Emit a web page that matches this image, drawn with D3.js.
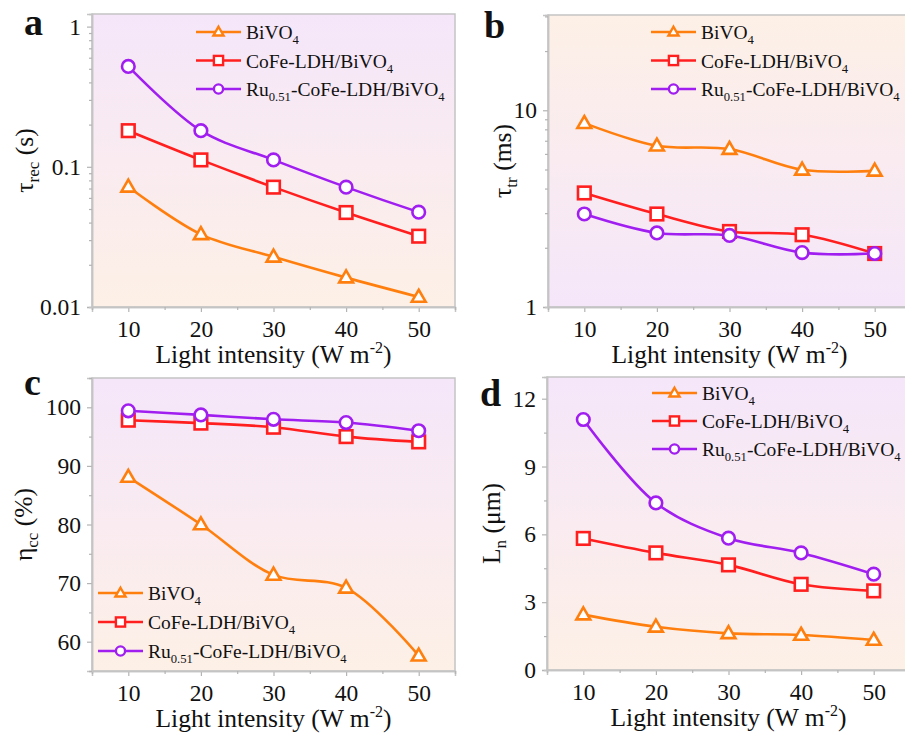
<!DOCTYPE html>
<meta charset="utf-8">
<script src="https://d3js.org/d3.v7.min.js"></script>
<style>
body{margin:0;background:#fff;}
svg text{font-family:"Liberation Serif","Times New Roman",Times,serif !important;fill:#111;}
</style>
<div id="fig"></div>
<script>
// light intensity (W m-2)
var intensity = [10, 20, 30, 40, 50];
var seriesNames = ["BiVO4", "CoFe-LDH/BiVO4", "Ru0.51-CoFe-LDH/BiVO4"];

// a: tau_rec (s)
var tauRecBi   = [0.072, 0.033, 0.0228, 0.0162, 0.0118];
var tauRecCoFe = [0.181, 0.112, 0.0716, 0.0472, 0.032];
var tauRecRu   = [0.52, 0.181, 0.112, 0.0716, 0.0475];
// b: tau_tr (ms)
var tauTrBi   = [8.6, 6.6, 6.35, 4.98, 4.92];
var tauTrCoFe = [3.8, 2.97, 2.42, 2.33, 1.87];
var tauTrRu   = [2.97, 2.38, 2.31, 1.89, 1.87];
// c: eta_cc (%)
var etaBi   = [88.1, 80.0, 71.4, 69.2, 57.6];
var etaCoFe = [97.8, 97.3, 96.6, 95.0, 94.1];
var etaRu   = [99.4, 98.7, 97.95, 97.4, 96.0];
// d: L_n (um)
var lnBi   = [2.45, 1.91, 1.62, 1.55, 1.33];
var lnCoFe = [5.82, 5.18, 4.65, 3.79, 3.5];
var lnRu   = [11.08, 7.39, 5.83, 5.18, 4.24];

var colors = ["#ff7f0e", "#ff1f1f", "#a01ff0"];
var shapes = ["triangle", "square", "circle"];
var lavender = "#f5e6fa", peach = "#fdf0e6";
var serif = '"Liberation Serif","Times New Roman",serif';

var svg = d3.select("#fig").append("svg")
  .attr("width", 905).attr("height", 733)
  .style("font-family", serif);
var defs = svg.append("defs");

function grad(id, top, bottom){
  var g = defs.append("linearGradient").attr("id", id)
    .attr("x1", 0).attr("y1", 0).attr("x2", 0).attr("y2", 1);
  g.append("stop").attr("offset", "0%").attr("stop-color", top);
  g.append("stop").attr("offset", "100%").attr("stop-color", bottom);
}
grad("gLP", lavender, peach);
grad("gPL", peach, lavender);

function marker(g, shape, cx, cy, s, color, sw){
  if (shape == "circle"){
    g.append("circle").attr("cx", cx).attr("cy", cy).attr("r", s)
      .attr("fill", "#fff").attr("stroke", color).attr("stroke-width", sw);
  } else if (shape == "square"){
    g.append("rect").attr("x", cx - s).attr("y", cy - s)
      .attr("width", 2*s).attr("height", 2*s)
      .attr("fill", "#fff").attr("stroke", color).attr("stroke-width", sw);
  } else {
    var h = s*1.9;
    g.append("path")
      .attr("d", "M" + cx + "," + (cy - h*0.6) + "L" + (cx + s*1.1) + "," + (cy + h*0.4) + "L" + (cx - s*1.1) + "," + (cy + h*0.4) + "Z")
      .attr("fill", "#fff").attr("stroke", color).attr("stroke-width", sw);
  }
}

function legendText(t, name, fs){
  var m = name.match(/^Ru0\.51(.*)$/);
  if (m){
    t.append("tspan").text("Ru");
    t.append("tspan").attr("font-size", fs*0.65).attr("dy", 5).text("0.51");
    t.append("tspan").attr("dy", -5).text(m[1].replace(/4$/, ""));
  } else {
    t.append("tspan").text(name.replace(/4$/, ""));
  }
  t.append("tspan").attr("font-size", fs*0.65).attr("dy", 5).text("4");
}

function panel(o){
  var g = svg.append("g");
  var x = d3.scaleLinear().domain([5, 55]).range([o.left, o.left + 363]);
  var y = (o.log ? d3.scaleLog() : d3.scaleLinear()).domain(o.domain).range([o.bottom, o.top]);

  g.append("rect").attr("x", o.left).attr("y", o.top)
    .attr("width", 363).attr("height", o.bottom - o.top)
    .attr("fill", "url(#" + o.grad + ")")
    .attr("stroke", "#c4c4c4").attr("stroke-width", 1.5);

  // x axis
  g.append("g").attr("transform", "translate(0," + o.bottom + ")")
    .call(d3.axisBottom(x).tickValues(intensity).tickSize(5).tickPadding(8).tickFormat(d3.format("d")));
  g.append("g").attr("transform", "translate(0," + o.bottom + ")")
    .call(d3.axisBottom(x).tickValues([5, 15, 25, 35, 45, 55]).tickSize(3).tickFormat(""));

  // y axis
  var ya = d3.axisLeft(y).tickSize(5).tickPadding(6).tickValues(o.major);
  if (o.log) ya.tickFormat(function(d){ return d3.format("~g")(d); });
  g.append("g").attr("transform", "translate(" + o.left + ",0)").call(ya);
  g.append("g").attr("transform", "translate(" + o.left + ",0)")
    .call(d3.axisLeft(y).tickValues(o.minor).tickSize(3).tickFormat(""));

  g.selectAll("g").attr("font-family", serif);
  g.selectAll(".domain").attr("stroke", "#c4c4c4").attr("stroke-width", 1.5);
  g.selectAll(".tick line").attr("stroke", "#b4b4b4").attr("stroke-width", 1.2);
  g.selectAll(".tick text").attr("font-size", 23.5).attr("fill", "#111");

  // x title
  var xt = g.append("text").attr("x", o.left + 181.5).attr("y", o.bottom + 56)
    .attr("text-anchor", "middle").attr("font-size", 25.5);
  xt.append("tspan").text("Light intensity (W m");
  xt.append("tspan").attr("font-size", 16).attr("dy", -10).text("-2");
  xt.append("tspan").attr("dy", 10).text(")");

  // y title
  var yt = g.append("text")
    .attr("transform", "translate(" + o.ytx + "," + ((o.top + o.bottom)/2) + ") rotate(-90)")
    .attr("text-anchor", "middle").attr("font-size", 25.5);
  yt.append("tspan").text(o.ysym);
  yt.append("tspan").attr("font-size", 17).attr("dy", 6).text(o.ysub);
  yt.append("tspan").attr("dy", -6).text(" " + o.yunit);

  // panel letter
  g.append("text").attr("x", o.lx).attr("y", o.ly).attr("font-size", 38)
    .attr("font-weight", "bold").text(o.letter);

  var line = d3.line()
    .x(function(d, i){ return x(intensity[i]); })
    .y(function(d){ return y(d); })
    .curve(d3.curveCatmullRom.alpha(0.5));

  o.series.forEach(function(vals, k){
    g.append("path").datum(vals).attr("d", line)
      .attr("fill", "none").attr("stroke", colors[k]).attr("stroke-width", 2.6);
  });
  o.series.forEach(function(vals, k){
    vals.forEach(function(v, i){
      marker(g, shapes[k], x(intensity[i]), y(v), 6.3, colors[k], 2.6);
    });
  });

  // legend
  seriesNames.forEach(function(name, k){
    var ly = o.legY + k*o.legDy;
    g.append("line").attr("x1", o.legX).attr("x2", o.legX + 45)
      .attr("y1", ly).attr("y2", ly).attr("stroke", colors[k]).attr("stroke-width", 2.6);
    marker(g, shapes[k], o.legX + 22.5, ly, 4.6, colors[k], 2.4);
    var t = g.append("text").attr("x", o.legX + 50).attr("y", ly + 7).attr("font-size", 19.5);
    legendText(t, name, 19.5);
  });
}

panel({letter: "a", lx: 24, ly: 35, left: 92, top: 14, bottom: 307, log: true,
  domain: [0.01, 1.23], major: [0.01, 0.1, 1],
  minor: [0.02,0.03,0.04,0.05,0.06,0.07,0.08,0.09,0.2,0.3,0.4,0.5,0.6,0.7,0.8,0.9],
  grad: "gLP", ysym: "τ", ysub: "rec", yunit: "(s)", ytx: 33,
  series: [tauRecBi, tauRecCoFe, tauRecRu], legX: 196, legY: 32, legDy: 28.5});

panel({letter: "b", lx: 484, ly: 38, left: 548, top: 15, bottom: 307, log: true,
  domain: [1, 30.5], major: [1, 10],
  minor: [2,3,4,5,6,7,8,9,20,30],
  grad: "gPL", ysym: "τ", ysub: "tr", yunit: "(ms)", ytx: 511,
  series: [tauTrBi, tauTrCoFe, tauTrRu], legX: 651, legY: 32, legDy: 28.5});

panel({letter: "c", lx: 24, ly: 395, left: 92, top: 378, bottom: 671, log: false,
  domain: [55, 105], major: [60, 70, 80, 90, 100],
  minor: [55, 65, 75, 85, 95, 105],
  grad: "gLP", ysym: "η", ysub: "cc", yunit: "(%)", ytx: 32,
  series: [etaBi, etaCoFe, etaRu], legX: 98, legY: 593, legDy: 29});

panel({letter: "d", lx: 480, ly: 406, left: 547, top: 377, bottom: 670, log: false,
  domain: [0, 12.96], major: [0, 3, 6, 9, 12],
  minor: [1.5, 4.5, 7.5, 10.5],
  grad: "gLP", ysym: "L", ysub: "n", yunit: "(μm)", ytx: 500,
  series: [lnBi, lnCoFe, lnRu], legX: 652, legY: 393, legDy: 28});
</script>
